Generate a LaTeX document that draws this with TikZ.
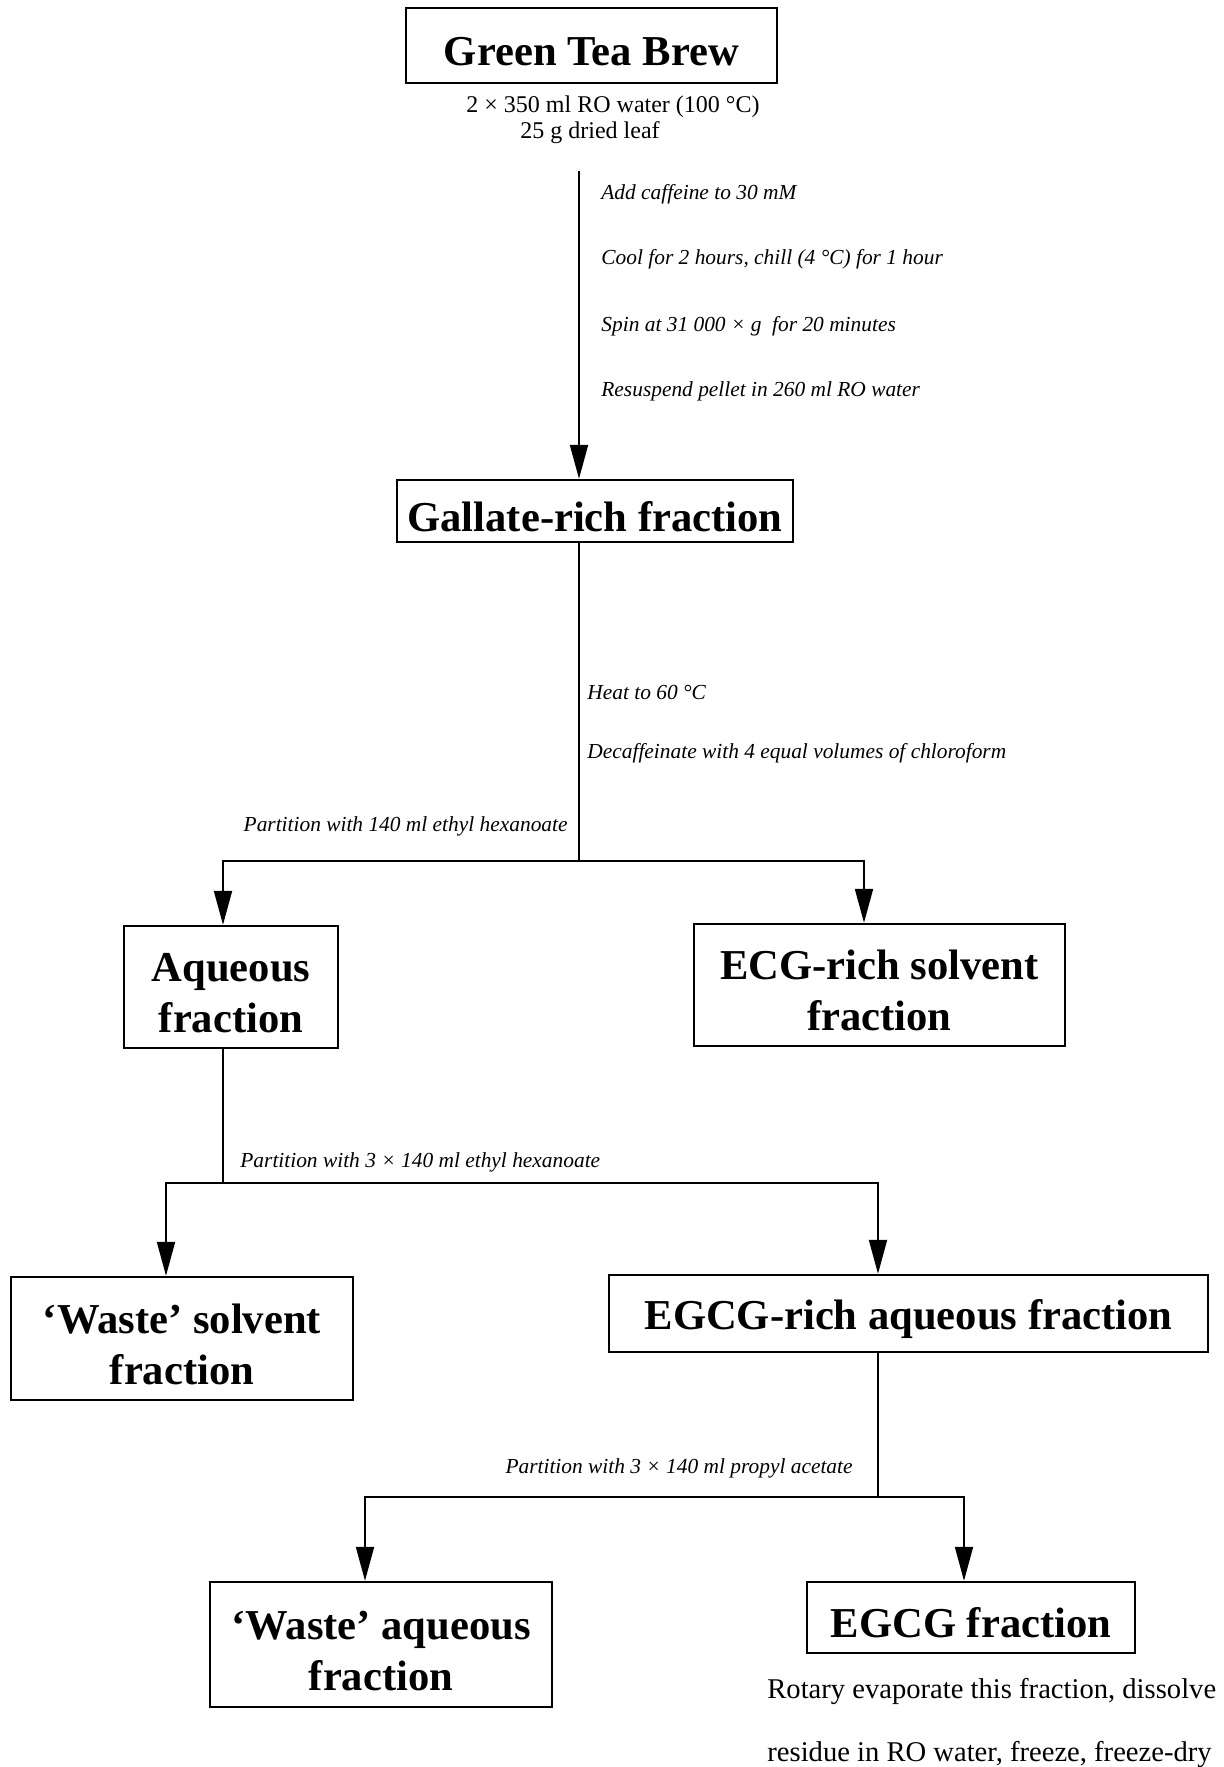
\documentclass[tikz,border=0pt]{standalone}
\usepackage{fontspec}
\setmainfont{Liberation Serif}
\usetikzlibrary{arrows.meta}
\newcommand\twoline[2]{\vbox{\halign{\hfil##\hfil\cr\rule{0pt}{20.5pt}#1\cr#2\cr}}}
\begin{document}
\begin{tikzpicture}[x=0.5pt,y=-0.5pt,
  box/.style={draw,line width=1.2pt,inner sep=0pt,align=center,font=\bfseries\fontsize{21.3}{25.5}\selectfont,execute at begin node={\rule{0pt}{20.5pt}}},
  twobox/.style={draw,line width=1.2pt,inner sep=0pt,align=none,font=\bfseries\fontsize{21.3}{25.5}\selectfont},
  steplabel/.style={inner sep=0pt,font=\itshape\fontsize{10.7}{13}\selectfont},
  subtext/.style={inner sep=0pt,font=\fontsize{12}{14}\selectfont},
  notetext/.style={inner sep=0pt,font=\fontsize{14.3}{17}\selectfont},
  conn/.style={line width=1pt},
  hconn/.style={line width=1.4pt,line cap=rect},
  arr/.style={line width=1pt,-{Triangle[length=17pt,width=9pt]}}
]
\useasboundingbox (0,0) rectangle (1224,1767);

% boxes
\node[box,minimum width=0.5*371pt,minimum height=0.5*75pt] (gtb) at (591.5,45.5) {Green Tea Brew};
\node[box,minimum width=0.5*396pt,minimum height=0.5*62pt] (gal) at (595,511) {Gallate-rich fraction};
\node[twobox,minimum width=0.5*214pt,minimum height=0.5*122pt] (aq) at (231,987) {\twoline{Aqueous}{fraction}};
\node[twobox,minimum width=0.5*371pt,minimum height=0.5*122pt] (ecg) at (879.5,985) {\twoline{ECG-rich solvent}{fraction}};
\node[twobox,minimum width=0.5*342pt,minimum height=0.5*123pt] (ws) at (182,1338.5) {\twoline{‘Waste’ solvent}{fraction}};
\node[box,minimum width=0.5*599pt,minimum height=0.5*77pt] (egr) at (908.5,1313.5) {EGCG-rich aqueous fraction};
\node[twobox,minimum width=0.5*342pt,minimum height=0.5*125pt] (wa) at (381,1644.5) {\twoline{‘Waste’ aqueous}{fraction}};
\node[box,minimum width=0.5*328pt,minimum height=0.5*71pt] (egcg) at (971,1617.5) {EGCG fraction};

% texts
\node[subtext] (s1) at (613,107) {2 × 350 ml RO water (100 °C)};
\node[subtext] (s2) at (590,133) {25 g dried leaf};

\node[steplabel,anchor=west] (l1) at (601,194) {Add caffeine to 30 mM};
\node[steplabel,anchor=west] (l2) at (601,259) {Cool for 2 hours, chill (4 °C) for 1 hour};
\node[steplabel,anchor=west] (l3) at (601,326) {Spin at 31~000 × g~~for 20 minutes};
\node[steplabel,anchor=west] (l4) at (601,391) {Resuspend pellet in 260 ml RO water};

\node[steplabel,anchor=west] (l5) at (587,692) {Heat to 60 °C};
\node[steplabel,anchor=west] (l6) at (587,753) {Decaffeinate with 4 equal volumes of chloroform};
\node[steplabel,anchor=east] (l7) at (568,826) {Partition with 140 ml ethyl hexanoate};
\node[steplabel,anchor=west] (l8) at (240,1162) {Partition with 3 × 140 ml ethyl hexanoate};
\node[steplabel,anchor=east] (l9) at (853,1468) {Partition with 3 × 140 ml propyl acetate};

\node[notetext,anchor=west] (n1) at (767,1691) {Rotary evaporate this fraction, dissolve};
\node[notetext,anchor=west] (n2) at (767,1754) {residue in RO water, freeze, freeze-dry};

% connectors
\coordinate (c1) at (579,171);
\draw[arr] (c1) -- (c1 |- gal.north);

\coordinate (j1) at (579,861);
\coordinate (h1l) at (223,861);
\coordinate (h1r) at (864,861);
\draw[conn] (gal.south -| j1) -- (j1);
\draw[hconn] (h1l) -- (h1r);
\draw[arr] (h1l) -- (h1l |- aq.north);
\draw[arr] (h1r) -- (h1r |- ecg.north);

\coordinate (j2) at (223,1183);
\coordinate (h2l) at (166,1183);
\coordinate (h2r) at (878,1183);
\draw[conn] (aq.south -| j2) -- (j2);
\draw[hconn] (h2l) -- (h2r);
\draw[arr] (h2l) -- (h2l |- ws.north);
\draw[arr] (h2r) -- (h2r |- egr.north);

\coordinate (j3) at (878,1497);
\coordinate (h3l) at (365,1497);
\coordinate (h3r) at (964,1497);
\draw[conn] (egr.south -| j3) -- (j3);
\draw[hconn] (h3l) -- (h3r);
\draw[arr] (h3l) -- (h3l |- wa.north);
\draw[arr] (h3r) -- (h3r |- egcg.north);
\end{tikzpicture}
\end{document}
